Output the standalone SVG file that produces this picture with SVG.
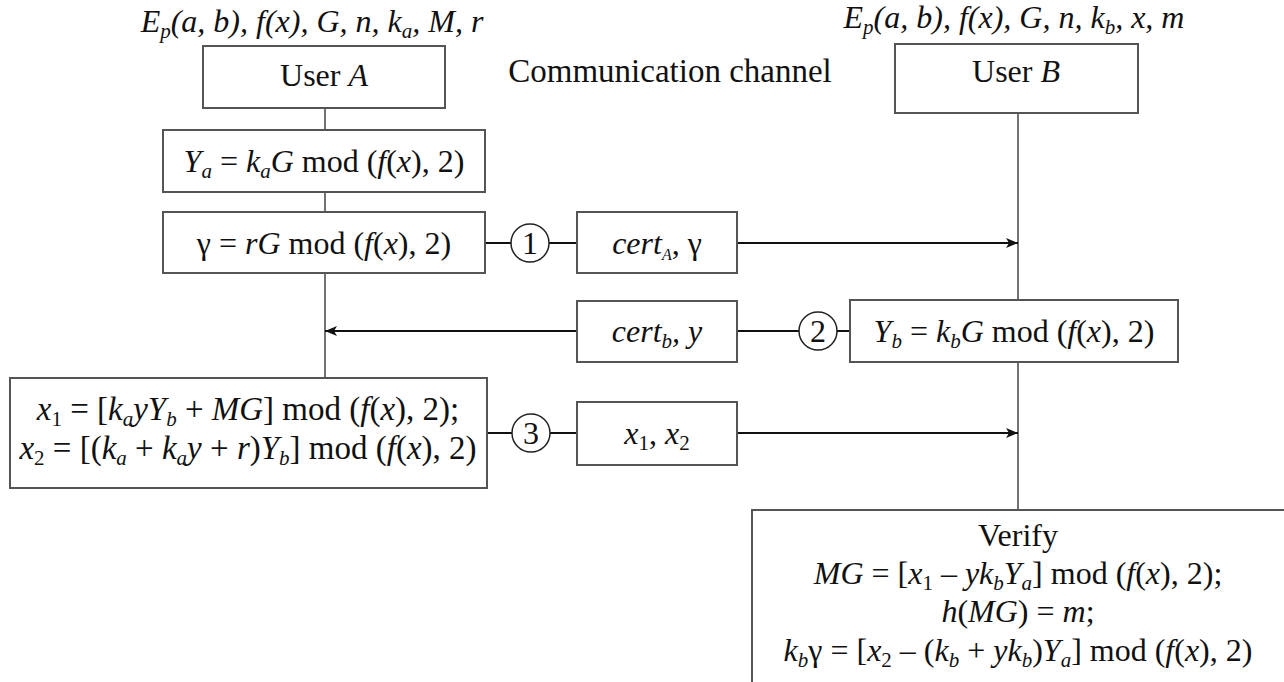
<svg xmlns="http://www.w3.org/2000/svg" width="1284" height="682" viewBox="0 0 1284 682">
<style>
text{font-family:"Times New Roman","Liberation Serif",Tinos,"DejaVu Serif",serif;font-size:32px;fill:#111;text-anchor:middle}
.i{font-style:italic}
.s{font-size:21px;baseline-shift:-6px}
.big{font-size:33px}
.box{fill:#fff;stroke:#555;stroke-width:2}
.ln{stroke:#444;stroke-width:1.5;fill:none}
.ar{stroke:#111;stroke-width:2;fill:none}
.cir{fill:#fff;stroke:#222;stroke-width:1.5}
</style>
<defs>
<marker id="ah" viewBox="0 0 12 10" refX="12" refY="5" markerWidth="12" markerHeight="10" markerUnits="userSpaceOnUse" orient="auto">
<path d="M0,0 L12,5 L0,10 L3,5 Z" fill="#111"/>
</marker>
</defs>
<g id="connectors">
<line class="ln" x1="325" y1="108" x2="325" y2="378"/>
<line class="ln" x1="1018" y1="113" x2="1018" y2="510"/>
<line class="ar" x1="485" y1="243" x2="511" y2="243"/>
<line class="ar" x1="549" y1="243" x2="577" y2="243"/>
<line class="ar" x1="737" y1="243" x2="1018" y2="243" marker-end="url(#ah)"/>
<line class="ar" x1="577" y1="331" x2="325" y2="331" marker-end="url(#ah)"/>
<line class="ar" x1="737" y1="331" x2="799" y2="331"/>
<line class="ar" x1="837" y1="331" x2="850" y2="331"/>
<line class="ar" x1="487" y1="433" x2="512" y2="433"/>
<line class="ar" x1="550" y1="433" x2="577" y2="433"/>
<line class="ar" x1="737" y1="433" x2="1018" y2="433" marker-end="url(#ah)"/>
</g>
<g id="labelA"><text x="312" y="32" class="i">E<tspan class="s">p</tspan>(a, b), f(x), G, n, k<tspan class="s">a</tspan>, M, r</text></g>
<g id="labelB"><text x="1014" y="28" class="i">E<tspan class="s">p</tspan>(a, b), f(x), G, n, k<tspan class="s">b</tspan>, x, m</text></g>
<g id="channel"><text x="670" y="82" class="big">Communication channel</text></g>
<g id="userA"><rect class="box" x="203" y="46" width="242" height="62"/><text x="324" y="86">User <tspan class="i">A</tspan></text></g>
<g id="userB"><rect class="box" x="895" y="44" width="243" height="69"/><text x="1016" y="82">User <tspan class="i">B</tspan></text></g>
<g id="ya"><rect class="box" x="163" y="130" width="322" height="62"/><text x="324" y="172"><tspan class="i">Y</tspan><tspan class="s i">a</tspan> = <tspan class="i">k</tspan><tspan class="s i">a</tspan><tspan class="i">G</tspan> mod (<tspan class="i">f</tspan>(<tspan class="i">x</tspan>), 2)</text></g>
<g id="gamma"><rect class="box" x="163" y="212" width="322" height="61"/><text x="324" y="254">γ = <tspan class="i">rG</tspan> mod (<tspan class="i">f</tspan>(<tspan class="i">x</tspan>), 2)</text></g>
<g id="c1"><circle class="cir" cx="530" cy="243" r="19"/><text x="530" y="254">1</text></g>
<g id="certA"><rect class="box" x="577" y="212" width="160" height="61"/><text x="657" y="254"><tspan class="i">cert</tspan><tspan class="s i" style="font-size:16px">A</tspan>, γ</text></g>
<g id="certB"><rect class="box" x="577" y="301" width="160" height="61"/><text x="657" y="342" class="i">cert<tspan class="s">b</tspan>, y</text></g>
<g id="c2"><circle class="cir" cx="818" cy="331" r="19"/><text x="818" y="342">2</text></g>
<g id="yb"><rect class="box" x="850" y="300" width="328" height="62"/><text x="1014" y="342"><tspan class="i">Y</tspan><tspan class="s i">b</tspan> = <tspan class="i">k</tspan><tspan class="s i">b</tspan><tspan class="i">G</tspan> mod (<tspan class="i">f</tspan>(<tspan class="i">x</tspan>), 2)</text></g>
<g id="x12"><rect class="box" x="10" y="378" width="477" height="110"/>
<text x="248" y="420" class="big"><tspan class="i">x</tspan><tspan class="s">1</tspan> = [<tspan class="i">k</tspan><tspan class="s i">a</tspan><tspan class="i">yY</tspan><tspan class="s i">b</tspan> + <tspan class="i">MG</tspan>] mod (<tspan class="i">f</tspan>(<tspan class="i">x</tspan>), 2);</text>
<text x="248" y="459" class="big"><tspan class="i">x</tspan><tspan class="s">2</tspan> = [(<tspan class="i">k</tspan><tspan class="s i">a</tspan> + <tspan class="i">k</tspan><tspan class="s i">a</tspan><tspan class="i">y</tspan> + <tspan class="i">r</tspan>)<tspan class="i">Y</tspan><tspan class="s i">b</tspan>] mod (<tspan class="i">f</tspan>(<tspan class="i">x</tspan>), 2)</text></g>
<g id="c3"><circle class="cir" cx="531" cy="433" r="19"/><text x="531" y="444">3</text></g>
<g id="xx"><rect class="box" x="577" y="402" width="160" height="63"/><text x="657" y="444"><tspan class="i">x</tspan><tspan class="s">1</tspan>, <tspan class="i">x</tspan><tspan class="s">2</tspan></text></g>
<g id="verify"><rect class="box" x="752" y="510" width="540" height="190"/>
<text x="1018" y="546">Verify</text>
<text x="1018" y="584"><tspan class="i">MG</tspan> = [<tspan class="i">x</tspan><tspan class="s">1</tspan> – <tspan class="i">yk</tspan><tspan class="s i">b</tspan><tspan class="i">Y</tspan><tspan class="s i">a</tspan>] mod (<tspan class="i">f</tspan>(<tspan class="i">x</tspan>), 2);</text>
<text x="1018" y="622"><tspan class="i">h</tspan>(<tspan class="i">MG</tspan>) = <tspan class="i">m</tspan>;</text>
<text x="1018" y="661"><tspan class="i">k</tspan><tspan class="s i">b</tspan>γ = [<tspan class="i">x</tspan><tspan class="s">2</tspan> – (<tspan class="i">k</tspan><tspan class="s i">b</tspan> + <tspan class="i">yk</tspan><tspan class="s i">b</tspan>)<tspan class="i">Y</tspan><tspan class="s i">a</tspan>] mod (<tspan class="i">f</tspan>(<tspan class="i">x</tspan>), 2)</text></g>
</svg>
